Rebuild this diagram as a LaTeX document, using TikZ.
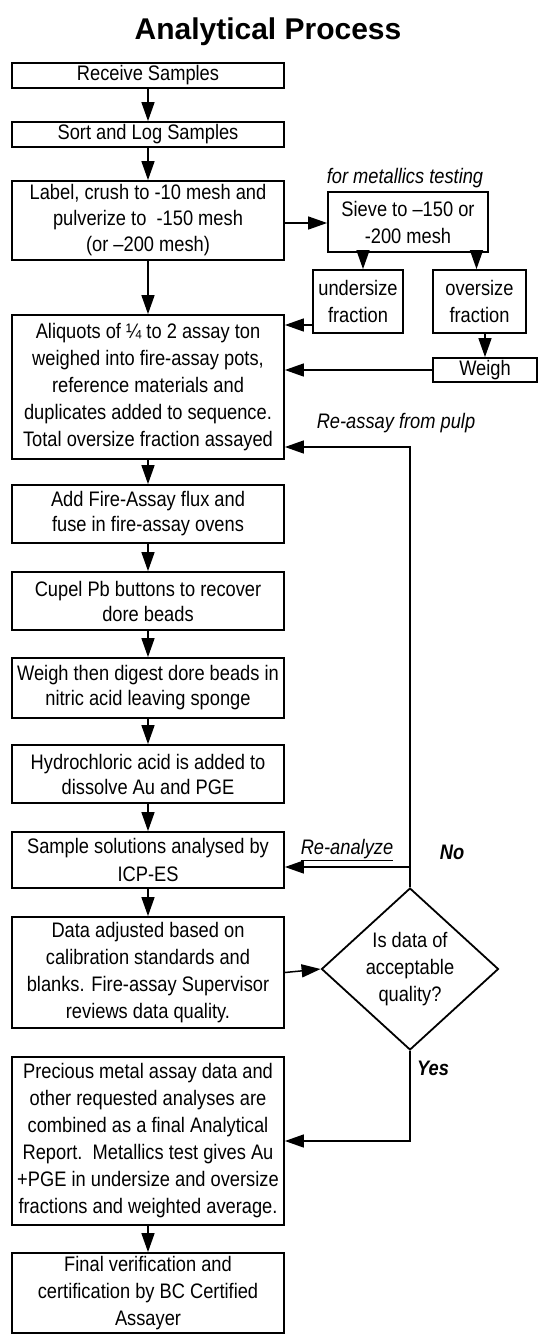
\documentclass[tikz,border=0pt]{standalone}
\usepackage{fontspec}
\setmainfont{Liberation Sans}[FakeStretch=0.87]
\newfontfamily\titlefont{Liberation Sans}
\usetikzlibrary{arrows.meta,shapes.geometric}
\tikzset{
  box/.style={draw, line width=1.8pt, inner sep=0pt, align=center, font=\fontsize{21}{27}\selectfont},
  mainbox/.style={box, minimum width=272pt},
  arr/.style={line width=1.5pt, -{Triangle[length=19pt,width=13pt]}},
  lab/.style={font=\fontsize{21}{27}\selectfont\itshape, inner sep=0pt},
  blab/.style={font=\fontsize{21}{27}\selectfont\bfseries\itshape, inner sep=0pt},
}
\begin{document}
\begin{tikzpicture}[x=1pt,y=-1pt]
\useasboundingbox (0,0) rectangle (538,1334);
\node[font=\titlefont\fontsize{30}{32}\selectfont\bfseries] (title) at (268,32) {Analytical Process};

% main column
\node[mainbox, minimum height=25pt] (B1) at (148,75.5) {Receive Samples};
\node[mainbox, minimum height=25pt] (B2) at (148,134.5) {Sort and Log Samples};
\node[mainbox, minimum height=79pt, font=\fontsize{21}{26}\selectfont] (B3) at (148,220.5) {Label, crush to -10 mesh and\\pulverize to\ \ -150 mesh\\(or –200 mesh)};
\node[mainbox, minimum height=144pt] (B4) at (148,387) {Aliquots of ¼ to 2 assay ton\\weighed into fire-assay pots,\\reference materials and\\duplicates added to sequence.\\Total oversize fraction assayed};
\node[mainbox, minimum height=58pt, font=\fontsize{21}{25}\selectfont] (B5) at (148,514) {Add Fire-Assay flux and\\fuse in fire-assay ovens};
\node[mainbox, minimum height=58pt, font=\fontsize{21}{25}\selectfont] (B6) at (148,601) {Cupel Pb buttons to recover\\dore beads};
\node[mainbox, minimum height=60pt, font=\fontsize{21}{25}\selectfont] (B7) at (148,688) {Weigh then digest dore beads in\\nitric acid leaving sponge};
\node[mainbox, minimum height=58pt, font=\fontsize{21}{25}\selectfont] (B8) at (148,774) {Hydrochloric acid is added to\\dissolve Au and PGE};
\node[mainbox, minimum height=56pt, font=\fontsize{21}{28}\selectfont] (B9) at (148,860) {Sample solutions analysed by\\ICP-ES};
\node[mainbox, minimum height=111pt] (B10) at (148,972.5) {Data adjusted based on\\calibration standards and\\blanks. Fire-assay Supervisor\\reviews data quality.};
\node[mainbox, minimum height=168pt] (B11) at (148,1141) {Precious metal assay data and\\other requested analyses are\\combined as a final Analytical\\Report.\ \ Metallics test gives Au\\+PGE in undersize and oversize\\fractions and weighted average.};
\node[mainbox, minimum height=80pt] (B12) at (148,1293) {Final verification and\\certification by BC Certified\\Assayer};

% metallics branch
\node[lab] (metlab) at (405,178) {for metallics testing};
\node[box, minimum width=160pt, minimum height=60pt] (sieve) at (408,222) {Sieve to –150 or\\-200 mesh};
\node[box, minimum width=90pt, minimum height=63pt] (under) at (358,301.5) {undersize\\fraction};
\node[box, minimum width=93pt, minimum height=63pt] (over) at (479.5,301.5) {oversize\\fraction};
\node[box, minimum width=104pt, minimum height=24pt] (weigh) at (485,370) {Weigh};

% decision
\node[draw, diamond, line width=1.8pt, inner sep=0pt, minimum width=177pt, minimum height=140pt, align=center, font=\fontsize{21}{27}\selectfont] (dia) at (410,969) {Is data of\\acceptable\\quality?};

% main arrows
\draw[arr] (B1) -- (B2);
\draw[arr] (B2) -- (B3);
\draw[arr] (B3) -- (B4);
\draw[arr] (B4) -- (B5);
\draw[arr] (B5) -- (B6);
\draw[arr] (B6) -- (B7);
\draw[arr] (B7) -- (B8);
\draw[arr] (B8) -- (B9);
\draw[arr] (B9) -- (B10);
\draw[arr] (B11) -- (B12);

% metallics arrows
\draw[arr] ([yshift=-2.5pt]B3.east) -- ([yshift=-2.5pt]B3.east -| sieve.west);
\draw[arr] ([xshift=5pt]under.north |- sieve.south) -- ([xshift=5pt]under.north);
\draw[arr] ([xshift=-3pt]over.north |- sieve.south) -- ([xshift=-3pt]over.north);
\draw[arr] (over.south -| weigh.north) -- (weigh.north);
\draw[arr] ([yshift=-23.5pt]under.west) -- ([yshift=-23.5pt]under.west -| B4.east);
\draw[arr] (weigh.west) -- (weigh.west -| B4.east);

% decision arrows
\coordinate (fb) at (410,447);
\draw[arr] (B10.east) -- (dia.west);
\draw[arr] (dia.north) -- (fb) -- (fb -| B4.east);
\draw[arr] ([yshift=-7pt]B9.east -| dia.north) -- ([yshift=-7pt]B9.east);
\draw[arr] (dia.south) |- (B11.east);

% labels
\node[lab] (reassay) at (396,423) {Re-assay from pulp};
\node[lab] (reanalyze) at (347,850) {\underline{Re-analyze}};
\node[blab] (no) at (452,852) {No};
\node[blab] (yes) at (433,1068) {Yes};
\end{tikzpicture}
\end{document}
